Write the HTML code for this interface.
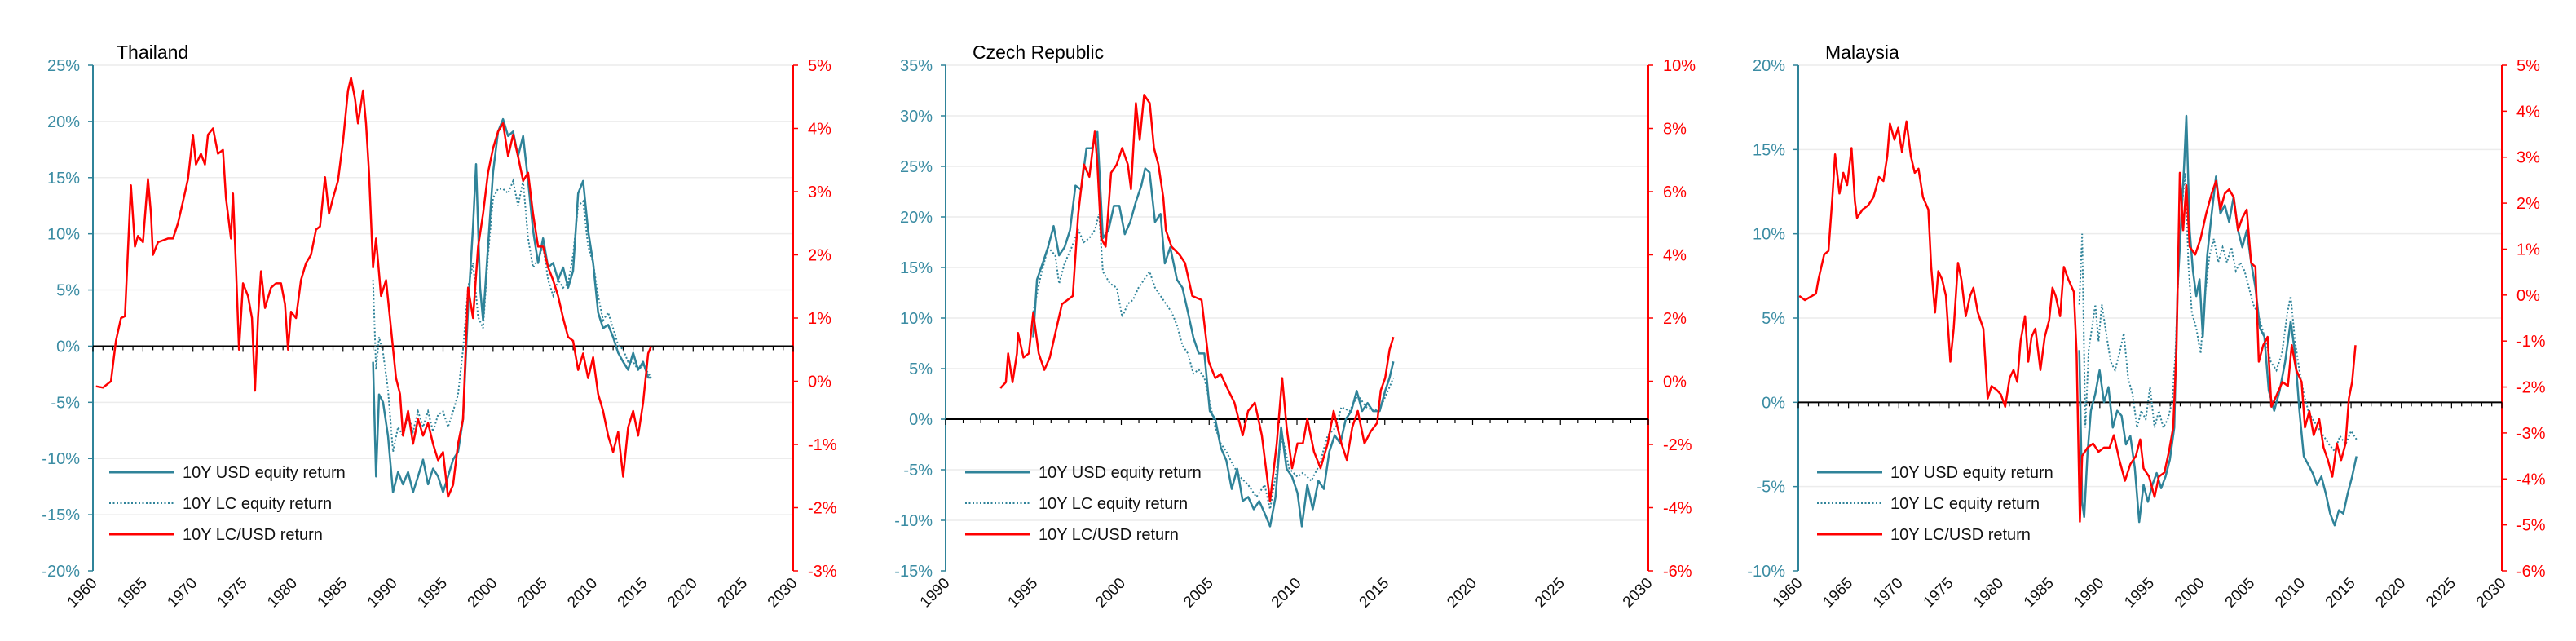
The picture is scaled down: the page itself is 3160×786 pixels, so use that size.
<!DOCTYPE html>
<html><head><meta charset="utf-8">
<style>
html,body{margin:0;padding:0;background:#fff;}
svg{display:block;font-family:"Liberation Sans",sans-serif;}
</style></head>
<body>
<svg id="chart" width="3160" height="786" viewBox="0 0 3160 786" xmlns="http://www.w3.org/2000/svg"></svg>
<script>
// ---------- DATA ----------
const legendLabels = ["10Y USD equity return","10Y LC equity return","10Y LC/USD return"];
const panelTitles = ["Thailand","Czech Republic","Malaysia"];

// Thailand
const thLeftTicks = [25,20,15,10,5,0,-5,-10,-15,-20];
const thRightTicks = [5,4,3,2,1,0,-1,-2,-3];
const thXTicks = [1960,1965,1970,1975,1980,1985,1990,1995,2000,2005,2010,2015,2020,2025,2030];
const thFx = [[1960.3,-0.08],[1961,-0.1],[1961.8,0],[1962.3,0.64],[1962.8,1.0],[1963.2,1.03],[1963.5,2.06],[1963.8,3.1],[1964.2,2.13],[1964.5,2.3],[1965,2.2],[1965.3,2.8],[1965.5,3.2],[1965.8,2.65],[1966,2.0],[1966.5,2.2],[1967.5,2.26],[1968,2.26],[1968.5,2.5],[1969,2.84],[1969.5,3.2],[1970,3.9],[1970.3,3.43],[1970.8,3.6],[1971.2,3.43],[1971.5,3.9],[1972,4.0],[1972.5,3.6],[1973,3.66],[1973.3,2.9],[1973.8,2.26],[1974,2.97],[1974.3,1.8],[1974.6,0.5],[1975,1.55],[1975.5,1.35],[1975.9,1.0],[1976.2,-0.15],[1976.5,1.0],[1976.8,1.74],[1977.2,1.16],[1977.8,1.48],[1978.3,1.55],[1978.8,1.55],[1979.2,1.22],[1979.5,0.5],[1979.8,1.1],[1980.3,1.0],[1980.8,1.6],[1981.3,1.87],[1981.8,2.0],[1982.3,2.4],[1982.7,2.45],[1983.2,3.23],[1983.6,2.65],[1984,2.9],[1984.5,3.17],[1985,3.8],[1985.5,4.6],[1985.8,4.8],[1986.2,4.47],[1986.5,4.08],[1987,4.6],[1987.3,4.08],[1987.6,3.3],[1988,1.8],[1988.3,2.26],[1988.8,1.35],[1989.3,1.6],[1989.8,0.83],[1990.3,0.05],[1990.7,-0.2],[1991,-0.86],[1991.5,-0.47],[1992,-0.99],[1992.5,-0.6],[1993,-0.86],[1993.5,-0.66],[1994,-0.99],[1994.5,-1.25],[1995,-1.12],[1995.5,-1.83],[1996,-1.64],[1996.5,-0.99],[1997,-0.6],[1997.5,1.48],[1998,1.0],[1998.5,2.13],[1999,2.65],[1999.5,3.3],[2000,3.69],[2000.5,3.95],[2001,4.08],[2001.5,3.56],[2002,3.9],[2002.5,3.56],[2003,3.17],[2003.5,3.3],[2004,2.65],[2004.5,2.13],[2005,2.13],[2005.5,1.8],[2006,1.6],[2006.5,1.35],[2007,1.0],[2007.5,0.7],[2008,0.64],[2008.5,0.18],[2009,0.44],[2009.5,0.05],[2010,0.38],[2010.5,-0.2],[2011,-0.47],[2011.5,-0.86],[2012,-1.12],[2012.5,-0.8],[2013,-1.51],[2013.5,-0.73],[2014,-0.47],[2014.5,-0.86],[2015,-0.34],[2015.5,0.44],[2015.8,0.55]];
const thUsd = [[1988,-1.4],[1988.3,-11.6],[1988.6,-4.3],[1989,-5],[1989.5,-8],[1990,-13],[1990.5,-11.2],[1991,-12.3],[1991.5,-11.2],[1992,-13],[1992.5,-11.6],[1993,-10.1],[1993.5,-12.3],[1994,-10.9],[1994.5,-11.6],[1995,-13],[1995.5,-11.6],[1996,-10.1],[1996.5,-9.4],[1997,-6.5],[1997.5,3.4],[1998,10.7],[1998.3,16.2],[1998.7,5.2],[1999,2.3],[1999.5,8.9],[2000,15.5],[2000.5,19.1],[2001,20.2],[2001.5,18.7],[2002,19.1],[2002.5,16.9],[2003,18.7],[2003.5,14.7],[2004,10.3],[2004.5,7.4],[2005,9.6],[2005.5,7],[2006,7.4],[2006.5,5.9],[2007,7],[2007.5,5.2],[2008,6.7],[2008.5,13.6],[2009,14.7],[2009.5,10.3],[2010,7.4],[2010.5,3],[2011,1.6],[2011.5,1.9],[2012,0.8],[2012.5,-0.6],[2013,-1.4],[2013.5,-2.1],[2014,-0.6],[2014.5,-2.1],[2015,-1.4],[2015.5,-2.8],[2015.8,-2.8]];
const thLc = [[1988,5.9],[1988.3,-2.1],[1988.6,0.8],[1989,-0.6],[1989.5,-3.9],[1990,-9.4],[1990.5,-7.2],[1991,-8],[1991.5,-6.1],[1992,-7.6],[1992.5,-5.8],[1993,-7.2],[1993.5,-5.8],[1994,-7.6],[1994.5,-6.1],[1995,-5.8],[1995.5,-7.2],[1996,-5.8],[1996.5,-4.3],[1997,-0.3],[1997.5,5.2],[1998,7.4],[1998.5,2.6],[1999,1.6],[1999.5,8.1],[2000,13.2],[2000.5,14],[2001,14],[2001.5,13.6],[2002,14.7],[2002.5,12.5],[2003,14.7],[2003.5,9.6],[2004,7],[2004.5,7.7],[2005,8.9],[2005.5,5.9],[2006,4.5],[2006.5,5.9],[2007,5.2],[2007.5,5.6],[2008,8.1],[2008.5,12.5],[2009,12.9],[2009.5,8.9],[2010,7.4],[2010.5,4.5],[2011,2.3],[2011.5,3],[2012,1.6],[2012.5,0.1],[2013,-0.3],[2013.5,-1.4],[2014,-1.4],[2014.5,-2.1],[2015,-1.7],[2015.8,-2.8]];

// Czech Republic
const czLeftTicks = [35,30,25,20,15,10,5,0,-5,-10,-15];
const czRightTicks = [10,8,6,4,2,0,-2,-4,-6];
const czXTicks = [1990,1995,2000,2005,2010,2015,2020,2025,2030];
const czFx = [[1993.12,-0.22],[1993.43,-0.03],[1993.56,0.88],[1993.81,-0.03],[1994.06,0.88],[1994.12,1.53],[1994.43,0.75],[1994.74,0.88],[1994.99,2.17],[1995.3,0.88],[1995.62,0.36],[1995.93,0.75],[1996.3,1.66],[1996.62,2.44],[1997.24,2.7],[1997.55,5.3],[1997.87,6.86],[1998.18,6.47],[1998.49,7.9],[1998.64,6.86],[1998.86,4.52],[1999.11,4.26],[1999.42,6.6],[1999.74,6.86],[2000.05,7.38],[2000.37,6.86],[2000.55,6.08],[2000.83,8.8],[2001.05,7.64],[2001.3,9.06],[2001.62,8.8],[2001.86,7.38],[2002.11,6.86],[2002.39,5.82],[2002.54,4.78],[2002.86,4.26],[2003.32,4.0],[2003.63,3.74],[2004.04,2.7],[2004.57,2.57],[2004.98,0.62],[2005.35,0.1],[2005.66,0.23],[2005.98,-0.16],[2006.44,-0.68],[2006.91,-1.71],[2007.22,-0.94],[2007.6,-0.68],[2008.0,-1.71],[2008.47,-3.79],[2008.85,-1.97],[2009.16,0.1],[2009.41,-1.45],[2009.72,-2.75],[2010.03,-1.97],[2010.34,-1.97],[2010.59,-1.19],[2010.97,-2.23],[2011.34,-2.75],[2011.75,-1.97],[2012.09,-0.94],[2012.53,-1.97],[2012.84,-2.49],[2013.15,-1.45],[2013.46,-0.94],[2013.84,-1.97],[2014.21,-1.58],[2014.56,-1.32],[2014.77,-0.29],[2015.02,0.1],[2015.27,1.0],[2015.49,1.4]];
const czUsd = [[1994.99,8.1],[1995.2,13.8],[1995.52,15.4],[1995.83,17.0],[1996.15,19.1],[1996.46,16.2],[1996.77,17.0],[1997.08,18.7],[1997.39,23.1],[1997.71,22.7],[1998.02,26.8],[1998.33,26.8],[1998.64,28.4],[1998.95,17.9],[1999.27,18.7],[1999.58,21.1],[1999.89,21.1],[2000.2,18.3],[2000.51,19.5],[2000.83,21.5],[2001.14,23.1],[2001.36,24.8],[2001.61,24.4],[2001.92,19.5],[2002.23,20.3],[2002.48,15.4],[2002.79,17.0],[2003.17,13.8],[2003.48,13.0],[2003.79,10.6],[2004.1,8.1],[2004.41,6.5],[2004.73,6.5],[2005.04,0.8],[2005.35,0],[2005.66,-2.8],[2005.98,-4.1],[2006.29,-6.9],[2006.6,-4.9],[2006.91,-8.1],[2007.22,-7.7],[2007.54,-8.9],[2007.85,-8.1],[2008.16,-9.3],[2008.47,-10.6],[2008.78,-7.7],[2009.1,-0.8],[2009.41,-4.9],[2009.72,-5.7],[2010.03,-7.3],[2010.28,-10.6],[2010.59,-6.5],[2010.9,-8.9],[2011.22,-6.1],[2011.53,-6.9],[2011.84,-3.2],[2012.15,-1.6],[2012.47,-2.4],[2012.78,0],[2013.09,0.8],[2013.4,2.8],[2013.71,0.8],[2014.02,1.6],[2014.33,0.8],[2014.71,0.8],[2015.02,2.8],[2015.27,4.1],[2015.49,5.7]];
const czLc = [[1994.99,10.6],[1995.37,13.8],[1995.83,17.0],[1996.24,16.2],[1996.46,13.4],[1996.77,15.4],[1997.18,17.0],[1997.55,18.7],[1997.87,17.5],[1998.18,17.9],[1998.49,18.7],[1998.74,20.3],[1998.95,14.6],[1999.36,13.4],[1999.74,13.0],[2000.05,10.1],[2000.37,11.4],[2000.67,11.8],[2000.98,13.0],[2001.3,13.8],[2001.61,14.6],[2001.92,13.0],[2002.23,12.2],[2002.54,11.4],[2002.86,10.6],[2003.17,9.3],[2003.48,7.3],[2003.79,6.5],[2004.1,4.5],[2004.41,4.9],[2004.73,4.1],[2005.04,1.6],[2005.35,-0.8],[2005.66,-2.4],[2005.98,-3.2],[2006.35,-4.5],[2006.76,-5.7],[2007.22,-6.5],[2007.69,-7.7],[2008.16,-6.5],[2008.47,-8.9],[2008.85,-4.9],[2009.16,-1.6],[2009.56,-4.9],[2010.03,-5.7],[2010.34,-5.3],[2010.81,-6.1],[2011.28,-4.5],[2011.75,-1.6],[2012.22,-0.8],[2012.53,1.2],[2013.0,0.8],[2013.46,2.4],[2013.93,1.2],[2014.4,0.8],[2014.87,1.6],[2015.18,2.8],[2015.49,4.1]];

// Malaysia
const myLeftTicks = [20,15,10,5,0,-5,-10];
const myRightTicks = [5,4,3,2,1,0,-1,-2,-3,-4,-5,-6];
const myXTicks = [1960,1965,1970,1975,1980,1985,1990,1995,2000,2005,2010,2015,2020,2025,2030];
const myFx = [[1960.1,-0.02],[1960.66,-0.11],[1961.75,0.03],[1962.0,0.34],[1962.57,0.88],[1963.0,0.96],[1963.39,2.13],[1963.66,3.06],[1964.1,2.21],[1964.48,2.66],[1964.86,2.39],[1965.3,3.2],[1965.63,2.04],[1965.84,1.68],[1966.39,1.86],[1966.94,1.95],[1967.48,2.13],[1968.03,2.57],[1968.47,2.48],[1968.85,3.02],[1969.12,3.73],[1969.56,3.38],[1969.94,3.64],[1970.32,3.11],[1970.76,3.78],[1971.2,3.02],[1971.58,2.66],[1971.96,2.75],[1972.4,2.13],[1972.94,1.86],[1973.22,0.61],[1973.6,-0.38],[1973.93,0.52],[1974.31,0.34],[1974.69,-0.02],[1975.13,-1.45],[1975.46,-0.73],[1975.89,0.7],[1976.22,0.34],[1976.66,-0.46],[1977.09,-0.02],[1977.42,0.16],[1977.86,-0.38],[1978.41,-0.73],[1978.84,-2.25],[1979.22,-1.98],[1979.77,-2.07],[1980.15,-2.16],[1980.59,-2.43],[1981.03,-1.8],[1981.41,-1.63],[1981.79,-1.89],[1982.12,-1.0],[1982.56,-0.46],[1982.88,-1.45],[1983.21,-0.91],[1983.59,-0.73],[1984.09,-1.63],[1984.52,-0.91],[1984.96,-0.55],[1985.29,0.16],[1985.61,-0.02],[1986.05,-0.46],[1986.43,0.61],[1986.87,0.34],[1987.42,0.07],[1987.69,-1.27],[1988.02,-4.93],[1988.24,-3.5],[1988.78,-3.32],[1989.33,-3.23],[1989.87,-3.41],[1990.42,-3.32],[1990.97,-3.32],[1991.4,-3.05],[1991.95,-3.59],[1992.5,-4.04],[1993.04,-3.68],[1993.59,-3.5],[1994.02,-3.14],[1994.35,-3.77],[1994.9,-3.95],[1995.45,-4.39],[1995.88,-3.95],[1996.43,-3.86],[1996.87,-3.41],[1997.3,-2.88],[1997.63,-1.18],[1997.96,2.66],[1998.29,1.41],[1998.61,2.39],[1998.94,1.05],[1999.49,0.88],[2000.03,1.23],[2000.58,1.77],[2001.13,2.21],[2001.56,2.48],[2002.0,1.86],[2002.44,2.21],[2002.87,2.3],[2003.31,2.13],[2003.75,1.41],[2004.18,1.68],[2004.62,1.86],[2005.06,0.7],[2005.49,0.61],[2005.82,-1.45],[2006.26,-1.09],[2006.7,-0.91],[2007.08,-2.43],[2007.62,-2.16],[2008.17,-1.89],[2008.72,-1.98],[2009.1,-1.09],[2009.54,-1.63],[2010.08,-1.89],[2010.41,-2.88],[2010.85,-2.52],[2011.28,-3.05],[2011.83,-2.7],[2012.27,-3.32],[2012.7,-3.59],[2013.14,-3.95],[2013.58,-3.23],[2014.01,-3.59],[2014.45,-3.23],[2014.78,-2.25],[2015.11,-1.89],[2015.44,-1.09]];
const myUsd = [[1987.96,3.1],[1988.24,-5.9],[1988.45,-6.8],[1988.78,-3.0],[1989.11,-0.5],[1989.55,0.5],[1989.98,1.9],[1990.42,0],[1990.86,0.9],[1991.29,-1.5],[1991.73,-0.5],[1992.17,-0.8],[1992.6,-2.5],[1993.04,-2.0],[1993.48,-3.9],[1993.92,-7.1],[1994.35,-4.9],[1994.79,-5.9],[1995.23,-4.9],[1995.66,-4.2],[1996.1,-5.1],[1996.54,-4.4],[1996.97,-3.4],[1997.41,-1.5],[1997.74,6.8],[1998.07,10.4],[1998.39,14.1],[1998.61,17.0],[1998.94,10.2],[1999.27,7.8],[1999.6,6.3],[1999.92,7.3],[2000.25,3.9],[2000.69,8.7],[2001.13,11.2],[2001.56,13.4],[2002.0,11.2],[2002.44,11.7],[2002.87,10.7],[2003.31,12.2],[2003.75,10.2],[2004.18,9.2],[2004.62,10.2],[2005.06,8.3],[2005.49,6.8],[2005.93,4.4],[2006.37,3.9],[2006.81,0.7],[2007.35,-0.5],[2007.9,0.7],[2008.44,2.4],[2008.99,4.8],[2009.43,2.9],[2009.86,-0.5],[2010.3,-3.2],[2010.74,-3.7],[2011.17,-4.2],[2011.61,-4.9],[2012.05,-4.4],[2012.48,-5.4],[2012.92,-6.6],[2013.36,-7.3],[2013.79,-6.4],[2014.23,-6.6],[2014.67,-5.4],[2015.11,-4.4],[2015.54,-3.2]];
const myLc = [[1987.96,5.8],[1988.24,10.0],[1988.56,-1.5],[1988.89,3.1],[1989.22,4.4],[1989.55,5.8],[1989.87,3.6],[1990.2,5.8],[1990.64,4.1],[1991.08,2.4],[1991.51,1.9],[1991.95,2.9],[1992.39,4.1],[1992.83,1.4],[1993.26,0.5],[1993.7,-1.5],[1994.13,-0.5],[1994.57,-1.0],[1995.0,0.9],[1995.45,-1.5],[1995.88,-0.5],[1996.32,-1.5],[1996.76,-1.0],[1997.19,0],[1997.52,2.9],[1997.85,8.0],[1998.18,11.7],[1998.5,13.6],[1998.83,8.0],[1999.16,5.3],[1999.6,4.4],[2000.03,2.9],[2000.47,6.3],[2000.91,8.7],[2001.34,9.7],[2001.78,8.3],[2002.22,9.2],[2002.65,8.3],[2003.09,9.2],[2003.53,7.8],[2003.96,8.3],[2004.4,7.8],[2004.84,6.8],[2005.28,5.8],[2005.71,5.3],[2006.15,4.4],[2006.59,3.4],[2007.02,2.4],[2007.57,1.9],[2008.12,2.9],[2008.66,5.3],[2008.99,6.3],[2009.43,3.6],[2009.86,1.9],[2010.3,0.5],[2010.74,-0.5],[2011.17,-1.0],[2011.72,-1.5],[2012.27,-2.0],[2012.81,-2.5],[2013.36,-2.9],[2013.9,-2.0],[2014.45,-2.5],[2015.0,-1.7],[2015.54,-2.2]];

// ---------- RENDER ----------
const NS = "http://www.w3.org/2000/svg";
const svg = document.getElementById("chart");
const TEAL = "#2f8399", RED = "#ff0000", TEALTXT = "#3b8ca3";
const TOP = 80, BOT = 700;

function mk(tag, attrs, parent){
  const e = document.createElementNS(NS, tag);
  for (const k in attrs) e.setAttribute(k, attrs[k]);
  parent.appendChild(e);
  return e;
}

const panels = [
  {key:"thailand", title:panelTitles[0], left:114, right:973, titleX:143, legX:134,
   xTicks:thXTicks, lTicks:thLeftTicks, rTicks:thRightTicks, fx:thFx, usd:thUsd, lc:thLc},
  {key:"czech-republic", title:panelTitles[1], left:1160, right:2022, titleX:1193, legX:1184,
   xTicks:czXTicks, lTicks:czLeftTicks, rTicks:czRightTicks, fx:czFx, usd:czUsd, lc:czLc},
  {key:"malaysia", title:panelTitles[2], left:2206, right:3069, titleX:2239, legX:2229,
   xTicks:myXTicks, lTicks:myLeftTicks, rTicks:myRightTicks, fx:myFx, usd:myUsd, lc:myLc}
];

panels.forEach(p => {
  const g = mk("g", {}, svg);
  
  
  const x0 = p.xTicks[0], x1 = p.xTicks[p.xTicks.length-1];
  const lMax = p.lTicks[0], lMin = p.lTicks[p.lTicks.length-1];
  const rMax = p.rTicks[0], rMin = p.rTicks[p.rTicks.length-1];
  const sx = v => p.left + (v - x0) / (x1 - x0) * (p.right - p.left);
  const sl = v => TOP + (lMax - v) / (lMax - lMin) * (BOT - TOP);
  const sr = v => TOP + (rMax - v) / (rMax - rMin) * (BOT - TOP);

  // gridlines + left ticks/labels
  p.lTicks.forEach(t => {
    const y = sl(t);
    if (t !== 0 && t !== lMin) {
      const gl = mk("line", {x1:p.left, x2:p.right, y1:y, y2:y, stroke:"#ececec", "stroke-width":1.5}, g);
      
      
    }
    mk("line", {x1:p.left-6, x2:p.left, y1:y, y2:y, stroke:TEAL, "stroke-width":1.5}, g);
    const tx = mk("text", {x:p.left-16, y:y+7, "text-anchor":"end", "font-size":20, fill:TEALTXT}, g);
    tx.textContent = t + "%";
    
    
  });
  // right ticks/labels
  p.rTicks.forEach(t => {
    const y = sr(t);
    mk("line", {x1:p.right, x2:p.right+6, y1:y, y2:y, stroke:RED, "stroke-width":1.5}, g);
    const tx = mk("text", {x:p.right+18, y:y+7, "text-anchor":"start", "font-size":20, fill:RED}, g);
    tx.textContent = t + "%";
    
    
  });
  const la = mk("line", {x1:p.left, x2:p.left, y1:TOP, y2:BOT, stroke:TEAL, "stroke-width":2}, g);
  
  
  const ra = mk("line", {x1:p.right, x2:p.right, y1:TOP, y2:BOT, stroke:RED, "stroke-width":2}, g);
  
  

  // zero line with yearly ticks
  const z = sl(0);
  for (let yr = x0; yr <= x1; yr++) {
    mk("line", {x1:sx(yr), x2:sx(yr), y1:z, y2:z + (yr % 5 === 0 ? 7 : 5), stroke:"#000", "stroke-width":1.2}, g);
  }
  const zl = mk("line", {x1:p.left, x2:p.right, y1:z, y2:z, stroke:"#000", "stroke-width":2}, g);
  
  

  // x labels
  p.xTicks.forEach(t => {
    const x = sx(t);
    const tx = mk("text", {x:x+6, y:716, "text-anchor":"end", "font-size":19, fill:"#111",
      transform:"rotate(-45 " + (x+6) + " 716)"}, g);
    tx.textContent = t;
    
    
  });

  // series
  const path = (arr, sy) => arr.map((d,i) => (i?"L":"M") + sx(d[0]).toFixed(1) + " " + sy(d[1]).toFixed(1)).join(" ");
  const lc = mk("path", {d:path(p.lc, sl), fill:"none", stroke:TEAL, "stroke-width":2, "stroke-dasharray":"2 2.5"}, g);
  
  
  const usd = mk("path", {d:path(p.usd, sl), fill:"none", stroke:TEAL, "stroke-width":2.5, "stroke-linejoin":"round"}, g);
  
  
  const fx = mk("path", {d:path(p.fx, sr), fill:"none", stroke:RED, "stroke-width":2.5, "stroke-linejoin":"round"}, g);
  
  

  // title
  const ti = mk("text", {x:p.titleX, y:72, "font-size":23, fill:"#000"}, g);
  ti.textContent = p.title;
  
  

  // legend
  const legYs = [579, 617, 655];
  legendLabels.forEach((lab, i) => {
    const lg = mk("g", {}, g);
    
    
    const attrs = {x1:p.legX, x2:p.legX+80, y1:legYs[i], y2:legYs[i], "stroke-width":3, stroke: i===2 ? RED : TEAL};
    if (i === 1) { attrs["stroke-dasharray"] = "2 2.5"; attrs["stroke-width"] = 2; }
    mk("line", attrs, lg);
    const t = mk("text", {x:p.legX+90, y:legYs[i]+7, "font-size":20, fill:"#111"}, lg);
    t.textContent = lab;
  });
});
</script>
</body></html>
